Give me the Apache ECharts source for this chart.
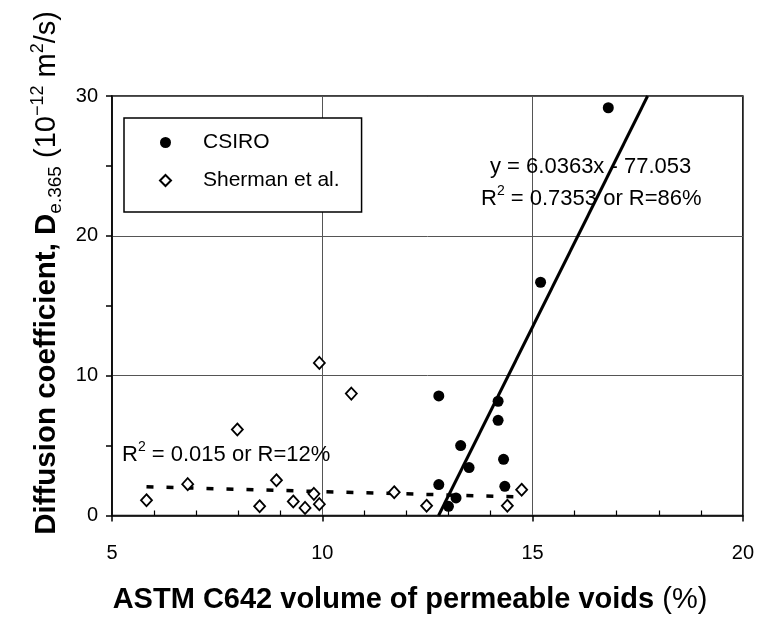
<!DOCTYPE html>
<html>
<head>
<meta charset="utf-8">
<script src="https://cdn.jsdelivr.net/npm/echarts@6/dist/echarts.min.js"></script>
<style>html,body{margin:0;padding:0;background:#fff;}#c{width:757px;height:620px;}</style>
</head>
<body>
<div id="c"></div>
<script>
// ---- data ----
var xTicks = [5, 10, 15, 20];
var yTicks = [0, 10, 20, 30];
var csiroX = [16.80, 15.19, 12.77, 14.18, 14.18, 13.29, 14.31, 13.49, 12.77, 14.34, 13.18, 13.00];
var csiroY = [29.16, 16.68, 8.55, 8.17, 6.81, 5.00, 4.02, 3.43, 2.21, 2.09, 1.26, 0.66];
var shermanX = [5.82, 6.80, 7.98, 8.91, 8.51, 9.31, 9.59, 9.80, 9.93, 9.93, 10.69, 11.71, 12.48, 14.40, 14.74];
var shermanY = [1.09, 2.24, 6.15, 2.52, 0.66, 1.00, 0.54, 1.55, 0.81, 10.91, 8.72, 1.66, 0.70, 0.70, 1.84];
var csiroFit = [6.0363, -77.053];          // slope, intercept
var csiroFitRangeY = [0, 30];               // drawn from y=0 to y=30
var shermanFitX = [5.82, 14.68];
var shermanFitY = [2.05, 1.33];

var FONT = '"Liberation Sans", Arial, Helvetica, sans-serif';

function pairs(xs, ys) { return xs.map(function (x, i) { return [x, ys[i]]; }); }
var csiroFitLine = csiroFitRangeY.map(function (y) { return [(y - csiroFit[1]) / csiroFit[0], y]; });

var chart = echarts.init(document.getElementById('c'), null, { renderer: 'canvas' });
chart.setOption({
  animation: false,
  backgroundColor: '#fff',
  grid: { left: 112, top: 96, width: 632, height: 419.5, show: true, borderColor: '#000', borderWidth: 1.5, backgroundColor: 'transparent' },
  xAxis: {
    type: 'value', min: xTicks[0], max: xTicks[xTicks.length - 1], interval: 5,
    axisLine: { onZero: false, lineStyle: { color: '#000', width: 1.5 } },
    axisTick: { show: true, length: 6, lineStyle: { color: '#000', width: 1.5 } },
    minorTick: { show: true, splitNumber: 5, length: -5, lineStyle: { color: '#000', width: 1.2 } },
    axisLabel: { color: '#000', fontSize: 20, fontFamily: FONT, margin: 28 },
    splitLine: { show: true, lineStyle: { color: '#555', width: 1 } }
  },
  yAxis: {
    type: 'value', min: yTicks[0], max: yTicks[yTicks.length - 1], interval: 10,
    axisLine: { onZero: false, lineStyle: { color: '#000', width: 1.5 } },
    axisTick: { show: true, length: 6, lineStyle: { color: '#000', width: 1.5 } },
    minorTick: { show: true, splitNumber: 2, length: 6, lineStyle: { color: '#000', width: 1.5 } },
    axisLabel: { color: '#000', fontSize: 20, fontFamily: FONT, margin: 14 },
    splitLine: { show: true, lineStyle: { color: '#555', width: 1 } }
  },
  legend: {
    left: 124, top: 118, orient: 'vertical',
    data: ['CSIRO', 'Sherman et al.'],
    itemWidth: 11, itemHeight: 11, itemGap: 17,
    padding: [14, 22, 21, 35],
    borderColor: '#000', borderWidth: 1.5, backgroundColor: '#fff',
    textStyle: { fontSize: 21, color: '#000', fontFamily: FONT, padding: [0, 0, 0, 27] }
  },
  series: [
    { name: 'CSIRO', type: 'scatter', data: pairs(csiroX, csiroY), symbol: 'circle', symbolSize: 11,
      itemStyle: { color: '#000', opacity: 1 }, z: 5 },
    { name: 'Sherman et al.', type: 'scatter', data: pairs(shermanX, shermanY), symbol: 'diamond', symbolSize: [11, 12],
      itemStyle: { color: '#fff', borderColor: '#000', borderWidth: 1.8, opacity: 1 }, z: 4 },
    { name: 'CSIRO fit', type: 'line', data: csiroFitLine, showSymbol: false, symbol: 'none',
      lineStyle: { color: '#000', width: 3 }, z: 3 },
    { name: 'Sherman fit', type: 'line', data: pairs(shermanFitX, shermanFitY), showSymbol: false, symbol: 'none',
      lineStyle: { color: '#000', width: 3.5, type: [7, 13] }, z: 3 }
  ],
  graphic: [
    { type: 'text', left: 490, top: 156, z: 10,
      style: { text: 'y = 6.0363x - 77.053', font: '22px ' + FONT, fill: '#000' } },
    { type: 'text', left: 481, top: 184, z: 10,
      style: { text: '{r|R}{sup|2}{r| = 0.7353 or R=86%}', fill: '#000',
        rich: { r: { fontSize: 22, fontFamily: FONT, lineHeight: 26, verticalAlign: 'bottom' },
                sup: { fontSize: 14, fontFamily: FONT, lineHeight: 26, verticalAlign: 'top' } } } },
    { type: 'text', left: 122, top: 440, z: 10,
      style: { text: '{r|R}{sup|2}{r| = 0.015 or R=12%}', fill: '#000',
        rich: { r: { fontSize: 22, fontFamily: FONT, lineHeight: 26, verticalAlign: 'bottom' },
                sup: { fontSize: 14, fontFamily: FONT, lineHeight: 26, verticalAlign: 'top' } } } },
    { type: 'text', x: 47, y: 273, rotation: Math.PI / 2, z: 10,
      style: { text: '{b|Diffusion coefficient, D}{sub|e.365}{r| (10}{sup|−12}{r| m}{sup|2}{r|/s)}',
        align: 'center', verticalAlign: 'middle', fill: '#000',
        rich: { b: { fontSize: 29.5, fontWeight: 'bold', fontFamily: FONT, lineHeight: 36, verticalAlign: 'middle' },
                sub: { fontSize: 19, fontFamily: FONT, lineHeight: 36, verticalAlign: 'bottom' },
                r: { fontSize: 29, fontFamily: FONT, lineHeight: 36, verticalAlign: 'middle' },
                sup: { fontSize: 18, fontFamily: FONT, lineHeight: 36, verticalAlign: 'top' } } } },
    { type: 'text', x: 410, y: 600, z: 10,
      style: { text: '{b|ASTM C642 volume of permeable voids}{r| (%)}', align: 'center', verticalAlign: 'middle', fill: '#000',
        rich: { b: { fontSize: 29, fontWeight: 'bold', fontFamily: FONT },
                r: { fontSize: 29, fontFamily: FONT } } } }
  ]
});
</script>
</body>
</html>
